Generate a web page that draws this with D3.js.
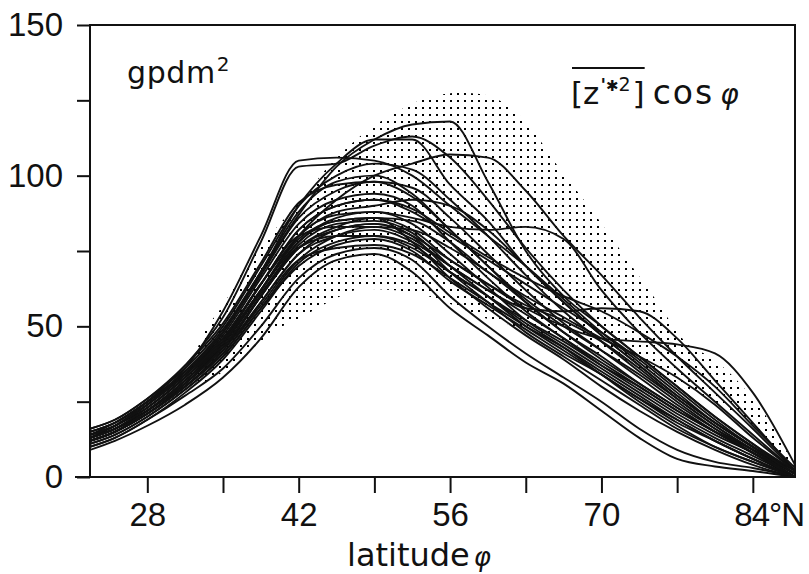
<!DOCTYPE html>
<html>
<head>
<meta charset="utf-8">
<script src="https://cdn.jsdelivr.net/npm/d3@7"></script>
<style>
  html, body { margin: 0; padding: 0; background: #fff; }
  svg { display: block; }
</style>
</head>
<body>
<div id="container"></div>
<script>
// latitudes at which every curve is read
const lats = [22.7, 25, 28, 31.5, 35, 38.5, 42, 45.5, 49, 52.5, 56, 59.5, 63, 66.5, 70, 73.5, 77, 80.5, 84, 87.9];

// individual curves (gpdm^2)
const c01 = [9, 12, 17, 24, 33, 46, 63, 72, 74, 68, 56, 47, 38, 31, 22, 13, 6, 3.5, 2, 0];
const c02 = [10, 13, 19, 27, 36, 50, 66, 74, 76, 72, 60, 50, 41, 33, 25, 16, 9, 5, 3, 0];
const c03 = [12, 15, 21, 30, 41, 58, 74, 82, 84, 80, 68, 58, 48, 40, 32, 24, 16, 10, 5, 0];
const c04 = [13, 16, 22, 31, 43, 60, 77, 84, 85, 81, 70, 60, 50, 42, 34, 26, 18, 12, 6, 0];
const c05 = [14, 17, 23, 33, 45, 62, 78, 85, 86, 78, 66, 56, 47, 39, 30, 22, 15, 9, 4, 0];
const c06 = [12, 15, 21, 31, 44, 62, 80, 87, 88, 84, 74, 63, 52, 44, 36, 28, 20, 13, 7, 0];
const c07 = [15, 18, 25, 34, 46, 64, 80, 83, 83, 79, 70, 62, 54, 46, 37, 29, 21, 14, 8, 0];
const c08 = [13, 16, 22, 32, 44, 61, 76, 80, 80, 76, 68, 60, 52, 45, 37, 30, 22, 15, 9, 1];
const c09 = [11, 14, 20, 29, 40, 56, 70, 77, 79, 75, 65, 57, 49, 41, 34, 26, 19, 12, 6, 0];
const c10 = [14, 17, 24, 34, 47, 66, 84, 92, 94, 90, 78, 66, 55, 46, 38, 30, 22, 15, 8, 0];
const c11 = [15, 18, 25, 35, 48, 67, 86, 95, 98, 96, 86, 74, 62, 51, 42, 33, 24, 16, 9, 0];
const c12 = [13, 17, 24, 34, 48, 68, 88, 98, 100, 94, 82, 70, 58, 48, 40, 31, 23, 15, 8, 0];
const c13 = [16, 19, 26, 36, 50, 70, 90, 100, 104, 102, 92, 80, 67, 55, 45, 35, 26, 17, 9, 1];
const c14 = [14, 18, 25, 35, 49, 68, 87, 103, 112, 117, 118, 98, 75, 60, 50, 40, 30, 20, 11, 1];
const c15 = [15, 18, 25, 35, 48, 68, 90, 104, 112, 112, 97, 85, 70, 58, 47, 37, 27, 18, 10, 1];
const c16 = [13, 16, 22, 32, 44, 62, 80, 92, 100, 104, 107, 106, 95, 80, 67, 53, 40, 28, 16, 2];
const c17 = [12, 15, 21, 30, 42, 60, 78, 86, 88, 86, 83, 82, 83, 79, 62, 48, 36, 25, 14, 2];
const c18 = [12, 15, 21, 30, 42, 58, 74, 80, 82, 78, 70, 62, 56, 55, 56, 55, 46, 32, 18, 2];
const c19 = [13, 16, 22, 31, 43, 60, 76, 82, 84, 80, 72, 64, 56, 50, 46, 45, 44, 41, 28, 4];
const c20 = [13, 17, 24, 36, 55, 80, 105, 106, 105, 100, 90, 80, 70, 59, 48, 38, 28, 18, 10, 2];
const c21 = [14, 17, 25, 37, 53, 78, 103, 104, 110, 113, 106, 92, 76, 62, 50, 40, 30, 20, 11, 2];
const c22 = [12, 15, 22, 32, 45, 64, 82, 90, 92, 88, 80, 72, 64, 56, 48, 39, 29, 19, 10, 1];
const c23 = [14, 17, 24, 34, 46, 64, 80, 88, 90, 92, 90, 82, 70, 58, 47, 37, 27, 18, 10, 1];
const c24 = [11, 14, 20, 29, 40, 56, 72, 80, 83, 82, 76, 68, 58, 48, 39, 31, 23, 15, 8, 0];
const c25 = [13, 16, 23, 33, 45, 62, 79, 85, 86, 82, 72, 64, 57, 52, 45, 36, 26, 17, 9, 0];
const c26 = [12, 15, 21, 30, 41, 57, 72, 76, 77, 74, 66, 58, 50, 43, 35, 27, 19, 12, 6, 0];
const c27 = [16, 19, 26, 37, 51, 71, 91, 97, 98, 93, 82, 70, 59, 50, 42, 34, 25, 16, 8, 0];
const c28 = [10, 13, 19, 28, 39, 55, 71, 78, 80, 77, 68, 60, 51, 43, 34, 25, 17, 10, 5, 0];
const c29 = [13, 16, 23, 33, 46, 64, 82, 90, 92, 89, 81, 73, 66, 60, 55, 48, 40, 30, 17, 3];
const c30 = [12, 15, 22, 31, 43, 60, 76, 83, 86, 85, 78, 68, 60, 53, 46, 40, 33, 24, 13, 2];

const curves = [c01, c02, c03, c04, c05, c06, c07, c08, c09, c10, c11, c12, c13, c14, c15,
                c16, c17, c18, c19, c20, c21, c22, c23, c24, c25, c26, c27, c28, c29, c30];

// dotted envelope
const envLat   = [32, 33, 35, 37.5, 40, 42, 45, 48, 51, 54, 57, 59, 61, 63, 66, 69, 72, 75, 78, 80, 82, 84, 86, 87.9];
const envUpper = [36, 46, 57, 72, 83, 91, 104, 114, 121, 126, 127.5, 127, 124, 118, 103, 89, 74, 59, 44, 40, 34, 26, 16, 3];
const envLower = [31, 31, 35, 42, 49, 52.5, 58.5, 62.5, 62, 60, 56, 53, 51, 49, 46, 42, 38, 34, 29, 26, 22, 17, 10, 1];

// axis ticks
const yTicks = [0, 25, 50, 75, 100, 125, 150];
const yLabels = [0, 50, 100, 150];
const xTicks = [28, 35, 42, 49, 56, 63, 70, 77, 84];
const xLabels = [28, 42, 56, 70, 84];

function drawChart() {
  const W = 809, H = 574;
  const m = { left: 90, right: 795, top: 25, bottom: 477 };

  const svg = d3.select("#container")
    .append("svg")
    .attr("width", W)
    .attr("height", H);

  const x = d3.scaleLinear().domain([22.7, 87.9]).range([m.left, m.right]);
  const y = d3.scaleLinear().domain([0, 150]).range([m.bottom, m.top]);

  // dot screen pattern
  const defs = svg.append("defs");
  const pat = defs.append("pattern")
    .attr("id", "dots")
    .attr("patternUnits", "userSpaceOnUse")
    .attr("width", 7)
    .attr("height", 7);
  pat.append("rect")
    .attr("x", 2).attr("y", 2)
    .attr("width", 2).attr("height", 2)
    .attr("fill", "#000")
    .attr("shape-rendering", "crispEdges");

  defs.append("clipPath").attr("id", "plotclip")
    .append("rect")
    .attr("x", m.left).attr("y", m.top)
    .attr("width", m.right - m.left).attr("height", m.bottom - m.top);

  const envData = envLat.map((lat, i) => ({ lat, hi: envUpper[i], lo: envLower[i] }));
  const area = d3.area()
    .x(d => x(d.lat))
    .y0(d => y(d.lo))
    .y1(d => y(d.hi))
    .curve(d3.curveMonotoneX);

  const plot = svg.append("g").attr("clip-path", "url(#plotclip)");

  plot.append("path")
    .datum(envData)
    .attr("d", area)
    .attr("fill", "url(#dots)");

  // curves
  const line = d3.line()
    .x((d, i) => x(lats[i]))
    .y(d => y(d))
    .curve(d3.curveMonotoneX);

  plot.selectAll("path.curve")
    .data(curves)
    .join("path")
    .attr("class", "curve")
    .attr("d", line)
    .attr("fill", "none")
    .attr("stroke", "#111")
    .attr("stroke-width", 1.9)
    .attr("stroke-linejoin", "round");

  // Axes
  const numFont = "'Liberation Sans', Arial, sans-serif";
  const txtFont = "'DejaVu Sans', sans-serif";

  const yAxis = svg.append("g")
    .attr("transform", `translate(${m.left},0)`)
    .call(d3.axisLeft(y)
      .tickValues(yTicks)
      .tickSize(13)
      .tickPadding(14)
      .tickFormat(d => yLabels.includes(d) ? d : ""));
  yAxis.select(".domain").remove();
  yAxis.selectAll("line").attr("stroke", "#111").attr("stroke-width", 2);
  yAxis.selectAll("text")
    .attr("fill", "#111")
    .style("font-family", numFont)
    .style("font-size", "33px");

  const xAxis = svg.append("g")
    .attr("transform", `translate(0,${m.bottom})`)
    .call(d3.axisBottom(x)
      .tickValues(xTicks)
      .tickSize(16)
      .tickPadding(10)
      .tickFormat(d => xLabels.includes(d) ? (d === 84 ? "84°N" : d) : ""));
  xAxis.select(".domain").remove();
  xAxis.selectAll("line").attr("stroke", "#111").attr("stroke-width", 2);
  xAxis.selectAll("text")
    .attr("fill", "#111")
    .style("font-family", numFont)
    .style("font-size", "33px");
  xAxis.selectAll("text")
    .filter(d => d === 84)
    .attr("text-anchor", "start")
    .attr("x", -19)
    .attr("letter-spacing", -1);

  // Frame
  svg.append("rect")
    .attr("x", m.left).attr("y", m.top)
    .attr("width", m.right - m.left).attr("height", m.bottom - m.top)
    .attr("fill", "none")
    .attr("stroke", "#111")
    .attr("stroke-width", 2);
  svg.append("line")
    .attr("x1", 75).attr("x2", m.left)
    .attr("y1", m.bottom).attr("y2", m.bottom)
    .attr("stroke", "#111").attr("stroke-width", 2);

  // x title
  svg.append("text")
    .attr("x", 347)
    .attr("y", 566)
    .style("font-family", txtFont)
    .style("font-size", "32px")
    .attr("fill", "#111")
    .text("latitude")
    .append("tspan")
    .attr("dx", 4)
    .style("font-style", "italic")
    .style("font-size", "26px")
    .text("φ");

  // unit label
  const unit = svg.append("text")
    .attr("x", 127)
    .attr("y", 83)
    .style("font-family", txtFont)
    .style("font-size", "30px")
    .attr("letter-spacing", 0.6)
    .attr("fill", "#111")
    .text("gpdm");
  unit.append("tspan")
    .attr("dy", -12)
    .attr("dx", 1)
    .style("font-size", "20px")
    .text("2");

  // quantity label  [z'*2] cos φ  as one text
  const q = svg.append("text")
    .attr("x", 571)
    .attr("y", 104)
    .attr("fill", "#111")
    .style("font-family", txtFont)
    .style("font-size", "31px");
  q.append("tspan").text("[z");
  q.append("tspan").attr("dy", -13).attr("dx", 1).style("font-size", "18px").style("font-weight", "bold").text("'");
  q.append("tspan").style("font-size", "15px").text("✱");
  q.append("tspan").style("font-size", "19px").text("2");
  q.append("tspan").attr("dy", 13).attr("dx", 2).text("]");
  q.append("tspan").attr("dx", 8).attr("letter-spacing", 2).style("font-size", "33px").text("cos");
  q.append("tspan").attr("dx", 6).style("font-style", "italic").style("font-size", "28px").text("φ");

  // overline across the bracket
  const qn = q.node();
  const idx = qn.textContent.indexOf("]");
  const x2 = qn.getEndPositionOfChar(idx).x;
  svg.append("line")
    .attr("x1", 572).attr("x2", x2)
    .attr("y1", 68).attr("y2", 68)
    .attr("stroke", "#111").attr("stroke-width", 2);
}

drawChart();
</script>
</body>
</html>
